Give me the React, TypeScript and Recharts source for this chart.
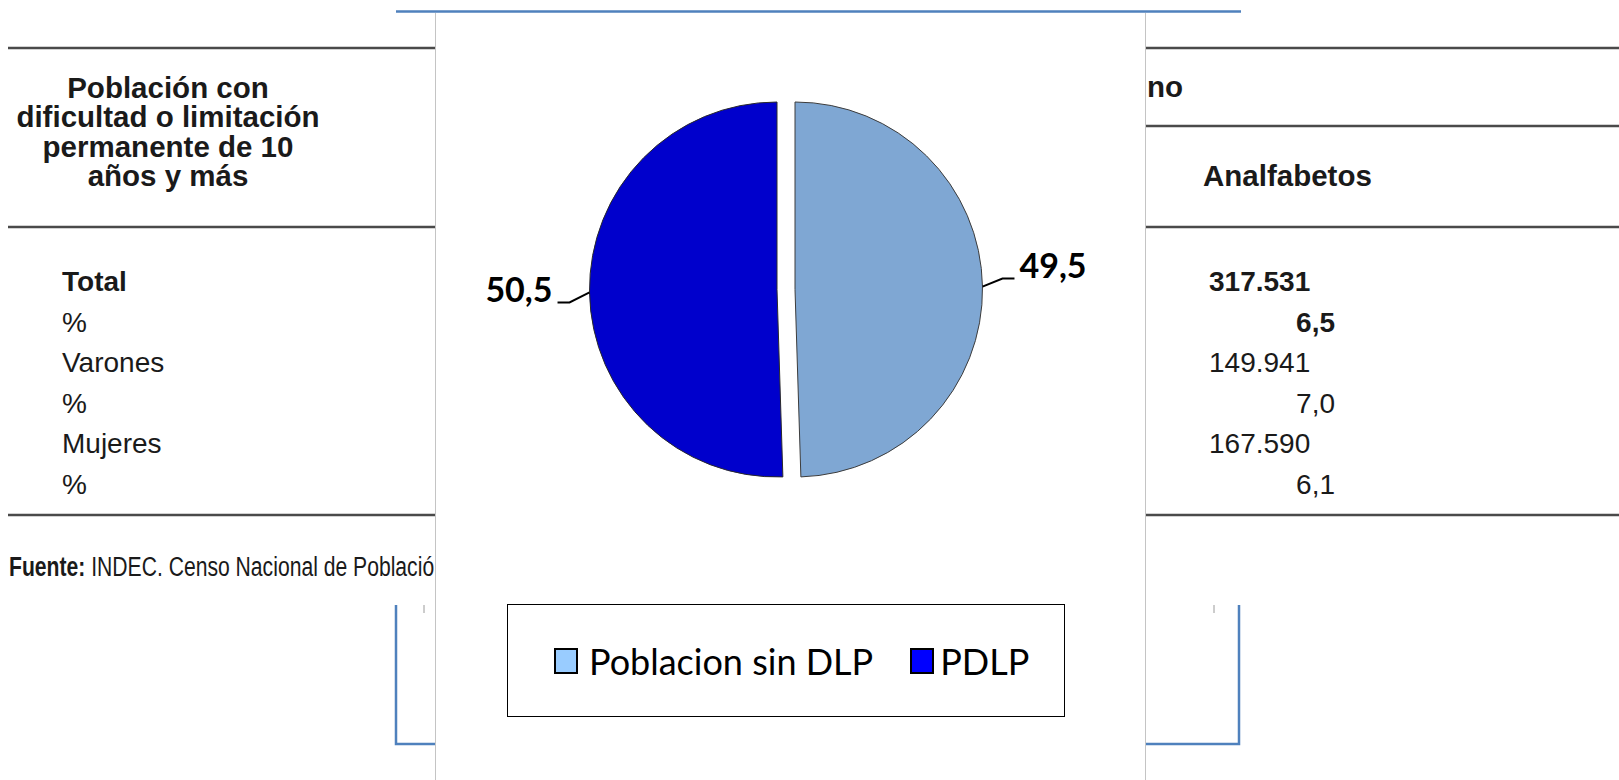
import { PieChart, Pie, Cell, Legend } from "recharts";

// pie data
const CATEGORIES = ["Poblacion sin DLP", "PDLP"];
const SHARE = [49.5, 50.5];
const SLICE_COLORS = ["#7FA7D3", "#0000CC"];
const LEGEND_COLORS = ["#99CCFF", "#0000FF"];

// background table text
const HEADER_LINES = ["Población con", "dificultad o limitación", "permanente de 10", "años y más"];
const ROW_LABELS = ["Total", "%", "Varones", "%", "Mujeres", "%"];
const ANALFABETOS = ["317.531", "6,5", "149.941", "7,0", "167.590", "6,1"];

const RADIAN = Math.PI / 180;
const CX = 786;
const CY = 289.5;
const R = 187.5;
const EXPLODE = 9;
const BLUE = "#4F81BD";
const INK = "#1a1a1a";

const pieData = CATEGORIES.map((name, i) => ({ name, value: SHARE[i] }));

const fmt = (v: number) => v.toFixed(1).replace(".", ",");

const renderLabel = (showIndex: number) => (p: any) => {
  if (p.index !== showIndex) return null;
  const a = -p.midAngle * RADIAN;
  const ex = p.cx + p.outerRadius * Math.cos(a);
  const ey = p.cy + p.outerRadius * Math.sin(a);
  const s = Math.cos(a) >= 0 ? 1 : -1;
  const mx = ex + s * 20;
  const my = ey + (s > 0 ? -8 : 10);
  const lx = mx + s * 12;
  return (
    <g key={`lbl-${p.index}`}>
      <polyline
        points={`${ex},${ey} ${mx},${my} ${lx},${my}`}
        fill="none"
        stroke="#000"
        strokeWidth={2}
      />
      <text
        x={lx + s * 5}
        y={my - 14}
        textAnchor={s > 0 ? "start" : "end"}
        dominantBaseline="central"
        fontFamily="Lato, sans-serif"
        fontWeight={700}
        fontSize={34}
        fill="#000"
      >
        {fmt(p.value)}
      </text>
    </g>
  );
};

const LegendBox = () => (
  <div
    style={{
      width: 558,
      height: 113,
      boxSizing: "border-box",
      border: "1.5px solid #000",
      background: "#fff",
      display: "flex",
      alignItems: "center",
      paddingLeft: 46,
      fontFamily: "Lato, sans-serif",
      fontSize: 36,
      color: "#000",
    }}
  >
    {CATEGORIES.map((name, i) => (
      <div key={name} style={{ display: "flex", alignItems: "center", marginRight: i === 0 ? 37 : 0 }}>
        <span
          style={{
            display: "inline-block",
            width: 24,
            height: 26,
            boxSizing: "border-box",
            border: "2.5px solid #000",
            background: LEGEND_COLORS[i],
            marginRight: i === 0 ? 11 : 6,
          }}
        />
        <span style={{ lineHeight: "36px" }}>{name}</span>
      </div>
    ))}
  </div>
);

const Background = () => (
  <svg width={1619} height={780} style={{ position: "absolute", left: 0, top: 0 }}>
    {/* table rules */}
    <g stroke="#4a4a4a" strokeWidth={2.5}>
      <line x1={8} x2={1619} y1={48} y2={48} />
      <line x1={1146} x2={1619} y1={126} y2={126} />
      <line x1={8} x2={1619} y1={227} y2={227} />
      <line x1={8} x2={1619} y1={515} y2={515} />
    </g>
    <g fontFamily="'Liberation Sans', Arial, sans-serif" fill={INK}>
      <text x={168} y={98} textAnchor="middle" fontSize={29.5} fontWeight={700}>
        {HEADER_LINES.map((t, i) => (
          <tspan key={i} x={168} dy={i === 0 ? 0 : 29.3}>
            {t}
          </tspan>
        ))}
      </text>
      <text x={1147} y={97} fontSize={29.5} fontWeight={700}>no</text>
      <text x={1203} y={186} fontSize={29.5} fontWeight={700}>Analfabetos</text>
      {ROW_LABELS.map((t, i) => (
        <text key={i} x={62} y={291 + i * 40.5} fontSize={28} fontWeight={i === 0 ? 700 : 400}>
          {t}
        </text>
      ))}
      {ANALFABETOS.map((t, i) => (
        <text
          key={i}
          x={i % 2 === 0 ? 1209 : 1335}
          y={291 + i * 40.5}
          textAnchor={i % 2 === 0 ? "start" : "end"}
          fontSize={28}
          fontWeight={i < 2 ? 700 : 400}
        >
          {t}
        </text>
      ))}
      <text transform="translate(9,576) scale(0.755,1)" fontSize={28}>
        <tspan fontWeight={700}>Fuente:</tspan> INDEC. Censo Nacional de Población, Hogares y Viviendas 2010.
      </text>
    </g>
    {/* outer blue frame */}
    <g stroke={BLUE} strokeWidth={2.5} fill="none">
      <line x1={396} x2={1241} y1={11.5} y2={11.5} />
      <polyline points="396,605 396,744 436,744" />
      <polyline points="1239,605 1239,744 1146,744" />
    </g>
    <g stroke="#9a9a9a" strokeWidth={1}>
      <line x1={424} x2={424} y1={605} y2={613} />
      <line x1={1214} x2={1214} y1={605} y2={613} />
    </g>
  </svg>
);

export default function App() {
  return (
    <div
      style={{
        position: "fixed",
        left: 0,
        top: 0,
        width: 1619,
        height: 780,
        background: "#fff",
        overflow: "hidden",
      }}
    >
      <Background />
      <div
        style={{
          position: "absolute",
          left: 435,
          top: 13,
          width: 711,
          height: 780,
          boxSizing: "border-box",
          background: "#fff",
          borderLeft: "1px solid #c4c4c4",
          borderRight: "1px solid #c4c4c4",
        }}
      />
      <div style={{ position: "absolute", left: 0, top: 0 }}>
        <PieChart width={1619} height={780} margin={{ top: 0, right: 0, bottom: 0, left: 0 }}>
          <Pie
            data={pieData}
            dataKey="value"
            nameKey="name"
            cx={CX + EXPLODE}
            cy={CY}
            outerRadius={R}
            startAngle={90}
            endAngle={-270}
            labelLine={false}
            label={renderLabel(0)}
            isAnimationActive={false}
          >
            {pieData.map((d, i) => (
              <Cell
                key={d.name}
                fill={i === 0 ? SLICE_COLORS[0] : "none"}
                stroke={i === 0 ? "#3c3c3c" : "none"}
                strokeWidth={1}
              />
            ))}
          </Pie>
          <Pie
            data={pieData}
            dataKey="value"
            nameKey="name"
            cx={CX - EXPLODE}
            cy={CY}
            outerRadius={R}
            startAngle={90}
            endAngle={-270}
            labelLine={false}
            label={renderLabel(1)}
            isAnimationActive={false}
          >
            {pieData.map((d, i) => (
              <Cell
                key={d.name}
                fill={i === 1 ? SLICE_COLORS[1] : "none"}
                stroke={i === 1 ? "#2a2a2a" : "none"}
                strokeWidth={1}
              />
            ))}
          </Pie>
          <Legend
            content={() => <LegendBox />}
            wrapperStyle={{ position: "absolute", left: 507, top: 604, width: 558, height: 113 }}
          />
        </PieChart>
      </div>
    </div>
  );
}
